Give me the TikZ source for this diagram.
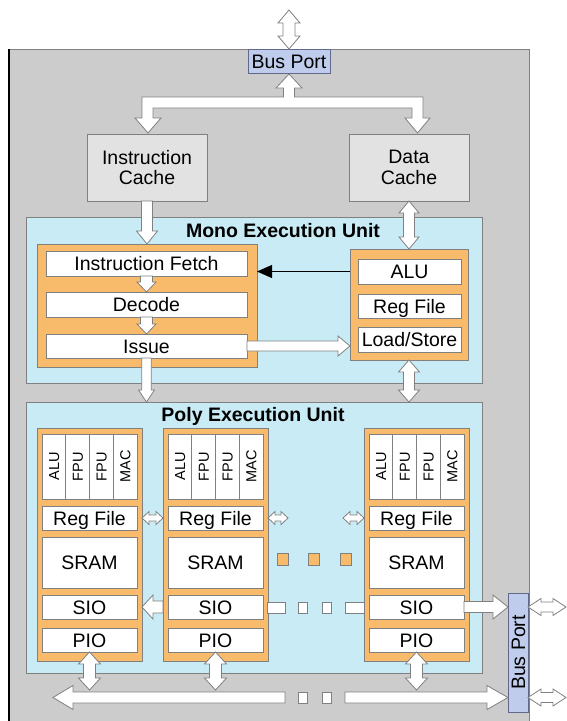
\documentclass[tikz,border=0pt]{standalone}
\usepackage{fontspec}
\setmainfont{Liberation Sans}
\usetikzlibrary{calc,arrows.meta}
\definecolor{bg}{RGB}{204,204,204}
\definecolor{cachefill}{RGB}{226,226,226}
\definecolor{cyanfill}{RGB}{200,235,245}
\definecolor{orangefill}{RGB}{247,187,107}
\definecolor{portfill}{RGB}{192,204,236}
\definecolor{portedge}{RGB}{96,104,140}
\definecolor{edge}{RGB}{128,128,128}
\tikzset{
 base/.style={inner sep=0pt, outer sep=0pt, line width=0.8pt, font=\fontsize{19.5}{20.5}\selectfont},
 one/.style={text height=14pt, text depth=0pt},
 wbox/.style={base, one, draw=edge, fill=white},
 cache/.style={base, draw=edge, fill=cachefill, align=center},
 unit/.style={base, draw=edge, fill=cyanfill},
 obox/.style={base, draw=edge, fill=orangefill},
 port/.style={base, one, draw=portedge, fill=portfill},
 ttl/.style={base, one, font=\fontsize{19.5}{20.5}\selectfont\bfseries},
 vlab/.style={inner sep=0pt, rotate=90, font=\fontsize{14.5}{15}\selectfont, text height=10.4pt, text depth=0pt},
 blk/.style={draw=edge, fill=white, line width=0.8pt, line join=miter},
 sq/.style={draw=edge, fill=orangefill, line width=0.6pt, minimum width=11pt, minimum height=12pt, inner sep=0pt},
}
% box: style, name, x1, y1, x2, y2, text
\newcommand\bx[7]{\node[#1,anchor=north west,minimum width={((#5)-(#3))*1pt},minimum height={((#6)-(#4))*1pt}] (#2) at (#3,#4) {#7};}
% single block arrow: from, to, half shaft, half head, head length
\newcommand\sarr[5]{%
 \coordinate (sa-a) at #1; \coordinate (sa-b) at #2;
 \coordinate (sa-h) at ($(sa-b)!#5pt!(sa-a)$);
 \draw[blk] ($(sa-a)!#3pt!90:(sa-b)$) -- ($(sa-h)!#3pt!90:(sa-b)$) -- ($(sa-h)!#4pt!90:(sa-b)$) -- (sa-b)
  -- ($(sa-h)!#4pt!-90:(sa-b)$) -- ($(sa-h)!#3pt!-90:(sa-b)$) -- ($(sa-a)!#3pt!-90:(sa-b)$) -- cycle;}
% double block arrow
\newcommand\darr[5]{%
 \coordinate (da-a) at #1; \coordinate (da-b) at #2;
 \coordinate (da-h1) at ($(da-a)!#5pt!(da-b)$);
 \coordinate (da-h2) at ($(da-b)!#5pt!(da-a)$);
 \draw[blk] (da-a) -- ($(da-h1)!#4pt!90:(da-b)$) -- ($(da-h1)!#3pt!90:(da-b)$) -- ($(da-h2)!#3pt!90:(da-b)$)
  -- ($(da-h2)!#4pt!90:(da-b)$) -- (da-b) -- ($(da-h2)!#4pt!-90:(da-b)$) -- ($(da-h2)!#3pt!-90:(da-b)$)
  -- ($(da-h1)!#3pt!-90:(da-b)$) -- ($(da-h1)!#4pt!-90:(da-b)$) -- cycle;}
\begin{document}
\begin{tikzpicture}[x=1pt,y=-1pt]
\useasboundingbox (0,0) rectangle (567,721);
% chip
\fill[bg] (9,49) rectangle (529,730);
\draw[edge,line width=0.8pt] (9,730) -- (9,49) -- (529,49) -- (529,730);
\draw[black,line width=1.2pt] (9,49) -- (9,730);
% top bus port
\bx{port}{bp1}{248}{49}{330}{73}{Bus Port}
\darr{(bp1.north |- 0,10)}{(bp1.north)}{6}{11}{13}
% internal bus
\draw[blk] (148,133) -- (135,118) -- (142,118) -- (142,97) -- (283.5,97) -- (283.5,88) -- (276,88) -- (289,74)
 -- (302,88) -- (294.5,88) -- (294.5,97) -- (423,97) -- (423,118) -- (430,118) -- (417.5,133) -- (405,118)
 -- (412,118) -- (412,108) -- (153,108) -- (153,118) -- (161,118) -- cycle;
% caches
\bx{cache}{icache}{87}{134}{207}{201}{Instruction\\Cache}
\bx{cache}{dcache}{349}{134}{469}{201}{Data\\Cache}
% mono unit
\bx{unit}{mono}{26}{217}{482}{383}{}
\node[ttl] (monot) at (283,230.5) {Mono Execution Unit};
\bx{obox}{lorange}{37}{244}{257}{367}{}
\bx{wbox}{fetch}{46}{251}{247}{276}{Instruction Fetch}
\bx{wbox}{decode}{46}{292}{247}{317}{Decode}
\bx{wbox}{issue}{46}{334}{247}{358}{Issue}
\bx{obox}{rorange}{350}{249}{468}{360}{}
\bx{wbox}{alu}{358}{259}{461}{284}{ALU}
\bx{wbox}{mreg}{358}{294}{461}{318}{Reg File}
\bx{wbox}{ls}{358}{327}{461}{352}{Load/Store}
\sarr{(icache.south)}{(icache.south |- lorange.north)}{5.5}{10.5}{13}
\sarr{(fetch.south)}{(decode.north)}{6}{9.5}{10}
\sarr{(decode.south)}{(issue.north)}{6}{9.5}{10}
\draw[black,line width=0.8pt,-{Triangle[length=15pt,width=13pt]}] (rorange.west |- alu.west) -- (lorange.east |- alu.west);
\sarr{(issue.east)}{(rorange.west |- issue.east)}{5}{10}{12}
\darr{(dcache.south)}{(dcache.south |- rorange.north)}{5.5}{10}{12}
% poly unit
\bx{unit}{poly}{26}{402}{482}{673}{}
\node[ttl] (polyt) at (253,414) {Poly Execution Unit};
\sarr{(issue.south)}{(issue.south |- poly.north)}{4.8}{8}{12}
\darr{(dcache.south |- rorange.south)}{(dcache.south |- poly.north)}{5.5}{10.5}{12}
\foreach \i/\L in {1/37,2/163,3/364}{
 \bx{obox}{pe\i}{\L}{428}{\L+105}{661}{}
 \bx{wbox}{fu\i}{\L+5}{434}{\L+100}{499}{}
 \foreach \k/\lab in {0/ALU,1/FPU,2/FPU,3/MAC}{
  \node[vlab] (fu\i-\k) at (\L+5+23.75*\k+11.875,466.5) {\lab};
 }
 \foreach \k in {1,2,3}{\draw[edge,line width=0.6pt] (\L+5+23.75*\k,434) -- (\L+5+23.75*\k,499);}
 \bx{wbox}{reg\i}{\L+5}{506}{\L+100}{530}{Reg File}
 \bx{wbox}{sram\i}{\L+5}{537}{\L+100}{588}{SRAM}
 \bx{wbox}{sio\i}{\L+5}{595}{\L+100}{619}{SIO}
 \bx{wbox}{pio\i}{\L+5}{628}{\L+100}{652}{PIO}
}
% reg file links
\darr{(pe1.east |- reg1.east)}{(pe2.west |- reg1.east)}{3}{6.5}{7}
\coordinate (r2free) at ($(pe2.east |- reg2.east)+(20,0)$);
\darr{(pe2.east |- reg2.east)}{(r2free)}{3}{6.5}{7}
\coordinate (r3free) at ($(pe3.west |- reg3.west)+(-21,0)$);
\darr{(r3free)}{(pe3.west |- reg3.west)}{3}{6.5}{7}
% ellipsis squares
\node[sq] (dot1) at (283,559) {};
\node[sq] (dot2) at (314,559) {};
\node[sq] (dot3) at (345.5,559) {};
% right bus port
\node[port, rotate=90, minimum width=119pt, minimum height=20pt] (bp2) at (518,652.5) {Bus Port};
% SIO chain
\sarr{(pe2.west |- sio2.west)}{(pe1.east |- sio1.east)}{6}{12}{11}
\bx{blk}{sd1}{267}{601.5}{285}{612.5}{}
\bx{blk}{sd2}{298}{601.5}{307}{612.5}{}
\bx{blk}{sd3}{322}{601.5}{331}{612.5}{}
\bx{blk}{sd4}{345}{601.5}{364}{612.5}{}
\sarr{(sio3.east)}{(bp2.north |- sio3.east)}{5.5}{12}{15}
% PIO links
\foreach \i in {1,2,3}{\darr{(pio\i.south)}{(pio\i.south |- 0,690)}{6}{11}{12}}
% bottom bus
\coordinate (busL) at (53,697.5);
\coordinate (busLstart) at (285,697.5);
\sarr{(busLstart)}{(busL)}{5.5}{12}{20}
\bx{blk}{bd1}{298}{692}{307}{703}{}
\bx{blk}{bd2}{322}{692}{331}{703}{}
\coordinate (busRstart) at (345,697.5);
\sarr{(busRstart)}{(bp2.north |- busRstart)}{5.5}{12}{21}
% external links
\coordinate (ext1) at (566,607);
\coordinate (ext2) at (566,697.5);
\darr{(bp2.south |- ext1)}{(ext1)}{5}{8.5}{13}
\darr{(bp2.south |- ext2)}{(ext2)}{5}{8.5}{13}
\end{tikzpicture}
\end{document}
